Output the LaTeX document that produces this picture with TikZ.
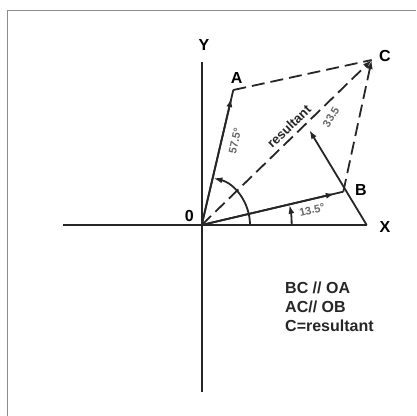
\documentclass[tikz,border=0pt]{standalone}
\usepackage{fontspec}
\setmainfont{Liberation Sans}
\usetikzlibrary{arrows.meta,calc}
\begin{document}
\begin{tikzpicture}[x=1pt,y=1pt,
  vec/.style={line width=1.8pt,black!85},
  dsh/.style={line width=1.8pt,black!85,dash pattern=on 13pt off 6pt},
  tip/.style={-{Latex[length=9pt,width=6pt]}},
  ptlabel/.style={font=\fontsize{16}{16}\selectfont\bfseries,inner sep=0pt},
  anglabel/.style={font=\fontsize{11}{11}\selectfont\bfseries,text=black!60,inner sep=0pt},
  note/.style={font=\fontsize{16}{18}\selectfont\bfseries,text=black!85,inner sep=0pt,anchor=west}]
\useasboundingbox (0,0) rectangle (416,416);
\draw[black!45,line width=0.8pt] (416,406) -- (7.5,406) -- (7.5,0);
% points
\coordinate (O) at (201.7,191);
\coordinate (A) at (233.3,326);
\coordinate (B) at (343.3,224.3);
\coordinate (C) at (371.7,356);
\coordinate (Xe) at (366.7,191);
\coordinate (Xl) at (63,191);
\coordinate (Yt) at (201.7,354.3);
\coordinate (Yb) at (201.7,24.3);
\coordinate (T) at (309.3,286);
% axes
\draw[vec] (Xl) -- (Xe);
\draw[vec] (Yb) -- (Yt);
% vectors
\draw[vec] (O) -- (A);
\draw[vec,tip] (O) -- ($(O)!0.94!(A)$);
\draw[vec] (O) -- (B);
\draw[vec,tip] (O) -- ($(O)!0.94!(B)$);
\draw[vec,tip] (Xe) -- (T);
% dashed
\draw[dsh] (A) -- (C);
\draw[dsh,tip] (B) -- (C);
\draw[dsh,tip] (O) -- (C);
% arcs
\draw[vec,tip] ([shift={(0:48.3)}]O) arc[start angle=0,end angle=76,radius=48.3];
\draw[vec,tip] ([shift={(0:90)}]O) arc[start angle=0,end angle=13,radius=90];
% labels
\node[ptlabel] (lY) at (204,371) {Y};
\node[ptlabel] (lA) at (236.7,338) {A};
\node[ptlabel] (lC) at (385,360) {C};
\node[ptlabel] (lB) at (361,226) {B};
\node[ptlabel] (lX) at (385,189.3) {X};
\node[ptlabel] (lO) at (189.3,200) {0};
\node[anglabel,rotate=77] (a1) at (235,275) {57.5\textdegree};
\node[anglabel,rotate=13] (a2) at (312,206) {13.5\textdegree};
\node[anglabel,rotate=59] (a3) at (331,299) {33.5};
\node[anglabel,rotate=44,text=black!85,fill=white,inner sep=1pt,font=\fontsize{13}{13}\selectfont\bfseries] (res) at (289,289.5) {resultant};
\node[note] (n1) at (285,128) {BC // OA};
\node[note] (n2) at (285,109) {AC// OB};
\node[note] (n3) at (285,90) {C=resultant};
\end{tikzpicture}
\end{document}
